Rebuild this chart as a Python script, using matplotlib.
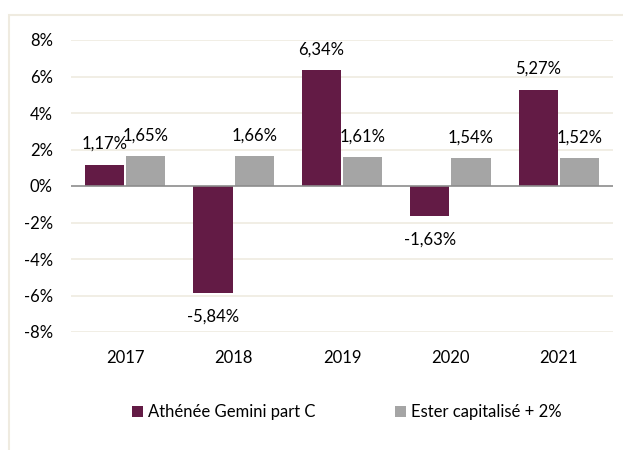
import matplotlib
matplotlib.use("Agg")
import matplotlib.pyplot as plt
from matplotlib.patches import Rectangle
import numpy as np

years = ["2017", "2018", "2019", "2020", "2021"]
athenee = [1.17, -5.84, 6.34, -1.63, 5.27]
ester = [1.65, 1.66, 1.61, 1.54, 1.52]
series_names = ["Athénée Gemini part C", "Ester capitalisé + 2%"]
yticks = [-8, -6, -4, -2, 0, 2, 4, 6, 8]

plt.rcParams['font.family'] = ['Lato', 'DejaVu Sans']
c1 = "#631B45"
c2 = "#A5A5A5"
fs = 12

fig = plt.figure(figsize=(6.23, 4.5), dpi=100)
fig.patch.set_facecolor("white")
# outer border
fig.patches.append(Rectangle((9/623, -0.1), 1.0, 1 - 15/450 + 0.1, transform=fig.transFigure,
                             fill=False, edgecolor="#EFEBE0", linewidth=1.5))

ax = fig.add_axes([71/623, 1 - 332/450, (613 - 71)/623, (332 - 40)/450])
x = np.arange(len(years))
w = 0.36
off = 0.19
b1 = ax.bar(x - off, athenee, w, color=c1, label=series_names[0], zorder=3)
b2 = ax.bar(x + off, ester, w, color=c2, label=series_names[1], zorder=3)

ax.set_ylim(-8, 8)
ax.set_xlim(-0.5, len(years) - 0.5)
ax.set_yticks(yticks)
ax.set_yticklabels([f"{v}%" for v in yticks], fontsize=fs)
ax.set_xticks(x)
ax.set_xticklabels(years, fontsize=fs)
ax.tick_params(axis='both', length=0, colors="#000000")
ax.tick_params(axis='y', pad=13)
ax.tick_params(axis='x', pad=13)
for t in yticks:
    if t != 0:
        ax.axhline(t, color="#EFEBE0", linewidth=1.2, zorder=1)
ax.axhline(0, color="#8C8C8C", linewidth=1.2, zorder=4)
for s in ax.spines.values():
    s.set_visible(False)

def fmt(v):
    return f"{v:.2f}%".replace(".", ",")

for xi, v in zip(x - off, athenee):
    if v >= 0:
        ax.annotate(fmt(v), (xi, v), xytext=(0, 15), textcoords="offset points",
                    ha="center", va="center", fontsize=fs, zorder=5)
    else:
        ax.annotate(fmt(v), (xi, v), xytext=(0, -17), textcoords="offset points",
                    ha="center", va="center", fontsize=fs, zorder=5)
for xi, v in zip(x + off, ester):
    ax.annotate(fmt(v), (xi, v), xytext=(0, 14.5), textcoords="offset points",
                ha="center", va="center", fontsize=fs, zorder=5)

fig.legend(handles=[b1, b2], labels=series_names, loc="center", bbox_to_anchor=(347/623, 1 - 412/450),
           ncol=2, frameon=False, fontsize=fs, handlelength=0.65, handleheight=0.65,
           handletextpad=0.3, columnspacing=4.8)

fig.savefig("out.png", dpi=100)
